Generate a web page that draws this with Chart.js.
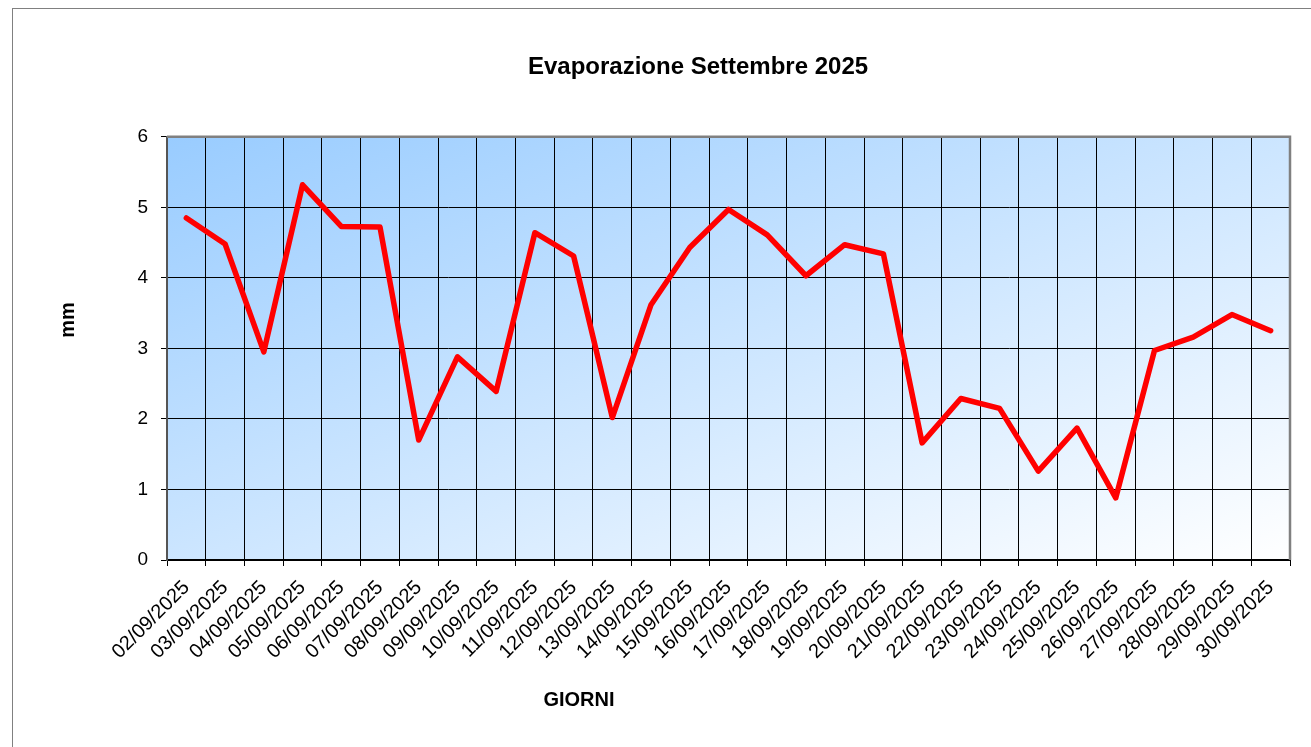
<!DOCTYPE html>
<html>
<head>
<meta charset="utf-8">
<script src="https://cdn.jsdelivr.net/npm/chart.js@4.4.1/dist/chart.umd.min.js"></script>
<style>
html,body{margin:0;padding:0;background:#fff;overflow:hidden;}
#wrap{position:relative;width:1311px;height:747px;overflow:hidden;}
#frame{position:absolute;left:12px;top:8px;width:1400px;height:900px;border-left:1.5px solid #808080;border-top:1.5px solid #808080;pointer-events:none;}
canvas{display:block;}
</style>
</head>
<body>
<div id="wrap"><canvas id="c" width="1311" height="747"></canvas><div id="frame"></div></div>
<script>
const dayLabels = ['02/09/2025','03/09/2025','04/09/2025','05/09/2025','06/09/2025','07/09/2025','08/09/2025','09/09/2025','10/09/2025','11/09/2025','12/09/2025','13/09/2025','14/09/2025','15/09/2025','16/09/2025','17/09/2025','18/09/2025','19/09/2025','20/09/2025','21/09/2025','22/09/2025','23/09/2025','24/09/2025','25/09/2025','26/09/2025','27/09/2025','28/09/2025','29/09/2025','30/09/2025'];
const evaporationMm = [4.85,4.48,2.95,5.32,4.73,4.72,1.70,2.88,2.39,4.64,4.31,2.02,3.62,4.43,4.97,4.61,4.03,4.47,4.34,1.66,2.29,2.15,1.26,1.87,0.88,2.97,3.16,3.48,3.25];
const yMin = 0, yMax = 6, yStep = 1;
const chartTitle = 'Evaporazione Settembre 2025';
const xTitle = 'GIORNI';
const yTitle = 'mm';

const FONT = "'Liberation Sans', Arial, sans-serif";

const bgPlugin = {
  id: 'bgGradient',
  beforeDraw(chart) {
    const {ctx, chartArea: a} = chart;
    ctx.save();
    ctx.translate(a.left, a.top);
    ctx.scale(a.right - a.left, a.bottom - a.top);
    const g = ctx.createLinearGradient(0, 0, 1, 1);
    g.addColorStop(0, '#99ccff');
    g.addColorStop(1, '#ffffff');
    ctx.fillStyle = g;
    ctx.fillRect(0, 0, 1, 1);
    ctx.restore();
  }
};

const framePlugin = {
  id: 'plotFrame',
  beforeDatasetsDraw(chart) {
    const {ctx, chartArea: a} = chart;
    ctx.save();
    ctx.strokeStyle = '#808080';
    ctx.lineWidth = 2.5;
    ctx.beginPath();
    ctx.moveTo(a.left, a.top);
    ctx.lineTo(a.right, a.top);
    ctx.lineTo(a.right, a.bottom);
    ctx.stroke();
    ctx.restore();
  }
};

// shift the main title so it sits where the original's title is centred
const titleShiftPlugin = {
  id: 'titleShift',
  afterLayout(chart) {
    const t = chart.titleBlock;
    if (t) { t.left += 53; t.right += 53; }
  }
};

// axis titles placed as in the original (not centred on the plot)
const axisTitlePlugin = {
  id: 'axisTitles',
  afterDraw(chart) {
    const ctx = chart.ctx;
    ctx.save();
    ctx.fillStyle = '#000';
    ctx.font = 'bold 20px ' + FONT;
    ctx.textAlign = 'center';
    ctx.textBaseline = 'middle';
    ctx.fillText(xTitle, 579, 700);
    ctx.translate(68, 320);
    ctx.rotate(-Math.PI / 2);
    ctx.fillText(yTitle, 0, 0);
    ctx.restore();
  }
};

new Chart(document.getElementById('c'), {
  type: 'line',
  data: {
    labels: dayLabels,
    datasets: [{
      data: evaporationMm,
      borderColor: '#ff0000',
      borderWidth: 5.5,
      pointRadius: 0,
      fill: false,
      tension: 0,
      borderCapStyle: 'round',
      borderJoinStyle: 'round'
    }]
  },
  options: {
    responsive: false,
    animation: false,
    devicePixelRatio: 1,
    layout: {padding: {left: 0, right: 21, top: 0, bottom: 0}},
    plugins: {
      legend: {display: false},
      tooltip: {enabled: false},
      title: {
        display: true,
        text: chartTitle,
        color: '#000',
        font: {family: FONT, size: 24, weight: 'bold'},
        padding: {top: 53, bottom: 55}
      }
    },
    scales: {
      x: {
        type: 'category',
        offset: true,
        grid: {offset: true, color: '#000', lineWidth: 1, drawTicks: true, tickLength: 6, tickColor: '#000'},
        border: {color: '#000', width: 2},
        ticks: {maxRotation: 45, minRotation: 45, autoSkip: false, color: '#000', font: {family: FONT, size: 20}, padding: 10},
        title: {display: false},
        afterFit(s) { s.height = 187; s.paddingLeft = 0; s.paddingRight = 0; }
      },
      y: {
        min: yMin,
        max: yMax,
        ticks: {stepSize: yStep, color: '#000', font: {family: FONT, size: 19}, padding: 13},
        grid: {color: '#000', lineWidth: 1, tickLength: 6, tickColor: '#000'},
        border: {color: '#555', width: 2},
        title: {display: false},
        afterFit(s) { s.width = 167; s.paddingTop = 0; s.paddingBottom = 0; }
      }
    }
  },
  plugins: [bgPlugin, framePlugin, titleShiftPlugin, axisTitlePlugin]
});
</script>
</body>
</html>
